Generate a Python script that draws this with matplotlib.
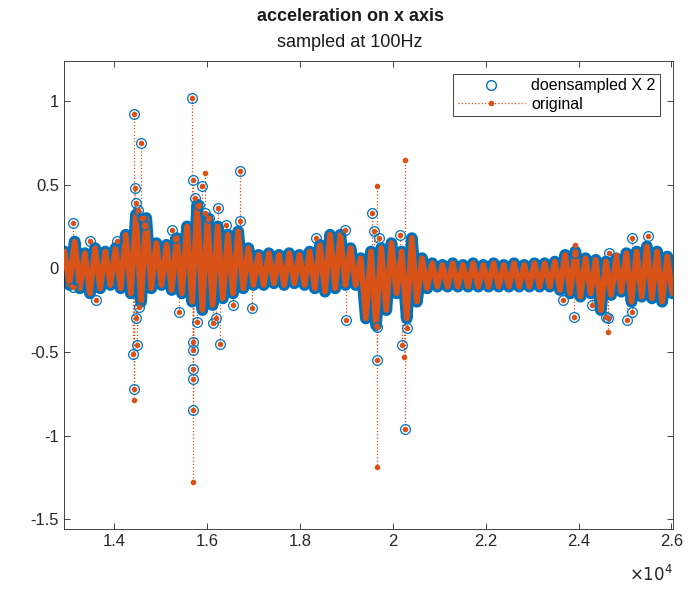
import numpy as np
import matplotlib
matplotlib.use("Agg")
import matplotlib.pyplot as plt
from matplotlib.lines import Line2D

plt.rcParams['font.family'] = ['Liberation Sans', 'DejaVu Sans']

# sample index range of the plot and the wave period (samples)
x_start = 12930
period = 220

# orange wave peaks (one per period)
wave_top = [0.10, 0.16, 0.09, 0.12, 0.10, 0.12, 0.20, 0.32, 0.30, 0.15,
            0.14, 0.18, 0.25, 0.38, 0.30, 0.25, 0.20, 0.22, 0.12, 0.08,
            0.09, 0.08, 0.09, 0.08, 0.10, 0.14, 0.20, 0.20, 0.12, 0.06,
            0.10, 0.12, 0.15, 0.10, 0.18, 0.06, 0.03, 0.02, 0.03, 0.02,
            0.03, 0.02, 0.03, 0.02, 0.03, 0.02, 0.03, 0.03, 0.04, 0.08,
            0.10, 0.06, 0.05, 0.04, 0.06, 0.09, 0.10, 0.13, 0.10, 0.07]
# wave troughs (half a period later)
wave_bot = [-0.10, -0.12, -0.15, -0.12, -0.10, -0.12, -0.15, -0.20, -0.12, -0.10,
            -0.13, -0.15, -0.20, -0.25, -0.22, -0.18, -0.15, -0.12, -0.10, -0.10,
            -0.09, -0.10, -0.09, -0.10, -0.12, -0.14, -0.12, -0.10, -0.10, -0.30,
            -0.34, -0.25, -0.15, -0.30, -0.20, -0.12, -0.11, -0.11, -0.11, -0.11,
            -0.11, -0.11, -0.11, -0.11, -0.11, -0.11, -0.11, -0.11, -0.13, -0.15,
            -0.17, -0.15, -0.25, -0.16, -0.14, -0.20, -0.17, -0.18, -0.20, -0.15]

# outliers that have both a circle and a dot
spike_x = [13110, 13470, 14060, 14425, 14575, 14440, 14470, 14400, 14500, 14425,
           13600, 13110, 14540, 15240, 15300, 15672, 15690, 15900, 16230, 16700,
           16700, 15693, 15693, 15693, 15693, 15693, 16274, 16200, 15393, 16960,
           18340, 18980, 19542, 19650, 19650, 20273, 20200, 18983, 23930, 24280,
           24600, 24640, 25154, 25500, 25150, 25050, 23660, 23900, 24650,
           14520, 14600, 14650, 14480, 15750, 15820, 15950, 16050, 16120, 15780,
           19600, 19700, 20150, 20300, 16400, 16550]
spike_y = [0.27, 0.16, 0.16, 0.92, 0.75, 0.48, 0.39, -0.51, -0.46, -0.72,
           -0.19, -0.11, -0.23, 0.23, 0.18, 1.02, 0.53, 0.49, 0.36, 0.58,
           0.28, -0.85, -0.66, -0.60, -0.49, -0.44, -0.45, -0.30, -0.26, -0.24,
           0.18, 0.23, 0.33, -0.55, -0.35, -0.96, -0.46, -0.31, 0.09, -0.22,
           -0.29, -0.30, 0.18, 0.19, -0.26, -0.31, -0.19, -0.29, 0.09,
           0.35, 0.30, 0.26, -0.30, 0.42, 0.38, 0.33, 0.30, -0.33, -0.32,
           0.22, 0.18, 0.20, -0.36, 0.26, -0.22]
# outliers of the original only (dot, no circle)
dot_x = [14425, 15693, 15960, 19650, 19650, 20273, 20250, 23930, 24800, 24640]
dot_y = [-0.79, -1.28, 0.57, 0.49, -1.19, 0.65, -0.53, 0.14, 0.08, -0.38]

xticks = [14000, 16000, 18000, 20000, 22000, 24000, 26000]
xticklabels = ['1.4', '1.6', '1.8', '2', '2.2', '2.4', '2.6']
yticks = [-1.5, -1, -0.5, 0, 0.5, 1]
yticklabels = ['-1.5', '-1', '-0.5', '0', '0.5', '1']

blue = '#0072BD'
orange = '#D95319'

# interleave peaks and troughs into one wave line
n = len(wave_top)
wave_x = np.empty(2 * n)
wave_x[0::2] = x_start + period * np.arange(n)
wave_x[1::2] = x_start + period * np.arange(n) + period / 2
wave_y = np.empty(2 * n)
wave_y[0::2] = wave_top
wave_y[1::2] = wave_bot

fig = plt.figure(figsize=(6.88, 5.96), dpi=100)
ax = fig.add_axes([0.093, 0.112, 0.885, 0.786])

# dense overplotted band: circles (blue) under dots (orange)
ax.plot(wave_x, wave_y, color=blue, lw=8.5, solid_joinstyle='round',
        solid_capstyle='round', zorder=2)
ax.plot(wave_x, wave_y, color=orange, lw=4.2, solid_joinstyle='round',
        solid_capstyle='round', zorder=3)

ax.vlines(spike_x, 0, spike_y, colors=orange, linestyles=':', lw=0.9, zorder=1)
ax.vlines(dot_x, 0, dot_y, colors=orange, linestyles=':', lw=0.9, zorder=1)
ax.plot(spike_x, spike_y, 'o', mfc='none', mec=blue, ms=7, mew=0.9, zorder=4)
ax.plot(spike_x, spike_y, '.', color=orange, ms=6, zorder=5)
ax.plot(dot_x, dot_y, '.', color=orange, ms=6, zorder=5)

ax.set_xlim(12920, 26030)
ax.set_ylim(-1.56, 1.24)
ax.set_xticks(xticks)
ax.set_xticklabels(xticklabels)
ax.set_yticks(yticks)
ax.set_yticklabels(yticklabels)
ax.tick_params(direction='in', top=True, right=True, labelsize=12,
               colors='#262626', length=4, width=0.6)
for s in ax.spines.values():
    s.set_color('#262626')
    s.set_linewidth(0.6)
ax.text(1.0, -0.075, r'$\times10^4$', transform=ax.transAxes, ha='right', va='top',
        fontsize=12, color='#262626')

fig.text(0.509, 0.972, 'acceleration on x axis', ha='center', va='center',
         fontsize=13, fontweight='bold', color='#1a1a1a')
fig.text(0.509, 0.928, 'sampled at 100Hz', ha='center', va='center',
         fontsize=13, color='#1a1a1a')

handles = [Line2D([], [], ls='none', marker='o', mfc='none', mec=blue, ms=7),
           Line2D([], [], ls=':', marker='.', color=orange, ms=6, lw=0.9)]
leg = ax.legend(handles, ['doensampled X 2', 'original'], loc='upper right',
                fontsize=11.5, fancybox=False, framealpha=1, edgecolor='#262626',
                borderaxespad=0.8, handlelength=4.2, handletextpad=0.4,
                borderpad=0.3, labelspacing=0.2)
leg.get_frame().set_linewidth(0.6)

fig.savefig('out.png', dpi=100)
